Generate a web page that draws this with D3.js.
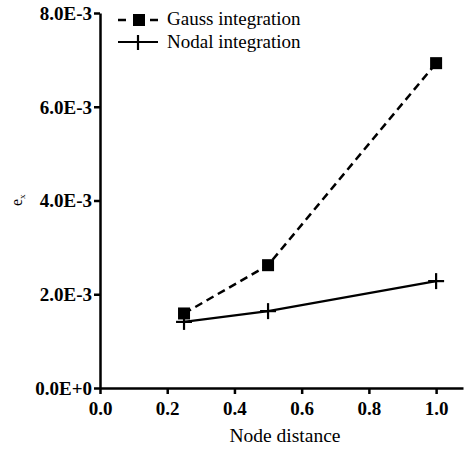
<!DOCTYPE html>
<html>
<head>
<meta charset="utf-8">
<script src="https://cdn.jsdelivr.net/npm/d3@7"></script>
</head>
<body style="margin:0">
<script>
const xTicks = [0, 0.2, 0.4, 0.6, 0.8, 1.0];
const yTicks = [0, 0.002, 0.004, 0.006, 0.008];
const nodeDistance = [0.25, 0.5, 1.0];
const gaussError = [0.00159, 0.00262, 0.00693];
const nodalError = [0.00141, 0.00164, 0.00228];
const seriesNames = ['Gauss integration', 'Nodal integration'];

const width = 464, height = 449;
const serif = '"Liberation Serif", "Times New Roman", Tinos';
const svg = d3.select('body').append('svg')
  .attr('width', width).attr('height', height)
  .attr('font-family', serif);

const x = d3.scaleLinear().domain([0, 1.08]).range([100, 463]);
const y = d3.scaleLinear().domain([0, 0.008]).range([388, 13]);

// axes
const xAxis = svg.append('g')
  .attr('transform', `translate(0,${y(0)})`)
  .call(d3.axisBottom(x).tickValues(xTicks).tickSize(6).tickSizeOuter(0).tickFormat(d3.format('.1f')));
const yAxis = svg.append('g')
  .attr('transform', `translate(${x(0)},0)`)
  .call(d3.axisLeft(y).tickValues(yTicks).tickSize(6).tickSizeOuter(0)
    .tickFormat(d => d === 0 ? '0.0E+0' : (d * 1000).toFixed(1) + 'E-3'));

[xAxis, yAxis].forEach(g => {
  g.attr('font-family', serif).attr('font-size', 19).attr('font-weight', 'bold');
  g.select('.domain').attr('stroke', '#000').attr('stroke-width', 2.5);
  g.selectAll('.tick line').attr('stroke', '#000').attr('stroke-width', 2.5);
  g.selectAll('.tick text')
    .attr('fill', '#000')
    .attr('font-family', serif)
    .style('font-family', serif);
});
xAxis.selectAll('.tick text').attr('y', 9).attr('dy', '0.95em');
yAxis.selectAll('.tick text').attr('x', -8).attr('dy', '0.33em');

// axis titles
svg.append('text')
  .attr('x', 285).attr('y', 442)
  .attr('text-anchor', 'middle')
  .attr('font-family', serif)
  .attr('font-size', 19.5)
  .text('Node distance');

const yl = svg.append('text')
  .attr('transform', 'translate(22,206) rotate(-90)')
  .attr('font-family', serif)
  .attr('font-size', 16);
yl.append('tspan').text('e');
yl.append('tspan').attr('dy', '3').attr('font-size', 9).text('x');

// lines
const line = d3.line().x(d => x(d[0])).y(d => y(d[1]));
const gaussPts = nodeDistance.map((d, i) => [d, gaussError[i]]);
const nodalPts = nodeDistance.map((d, i) => [d, nodalError[i]]);

svg.append('path').datum(gaussPts)
  .attr('d', line).attr('fill', 'none')
  .attr('stroke', '#000').attr('stroke-width', 2.5)
  .attr('stroke-dasharray', '8,5');
svg.append('path').datum(nodalPts)
  .attr('d', line).attr('fill', 'none')
  .attr('stroke', '#000').attr('stroke-width', 2.2);

const sq = 12, cr = 8;
svg.append('g').selectAll('rect').data(gaussPts).enter().append('rect')
  .attr('x', d => x(d[0]) - sq / 2).attr('y', d => y(d[1]) - sq / 2)
  .attr('width', sq).attr('height', sq).attr('fill', '#000');

const crosses = svg.append('g').attr('stroke', '#000').attr('stroke-width', 2.2);
nodalPts.forEach(d => {
  crosses.append('line').attr('x1', x(d[0]) - cr).attr('x2', x(d[0]) + cr)
    .attr('y1', y(d[1])).attr('y2', y(d[1]));
  crosses.append('line').attr('x1', x(d[0])).attr('x2', x(d[0]))
    .attr('y1', y(d[1]) - cr).attr('y2', y(d[1]) + cr);
});

// legend
const legend = svg.append('g').attr('stroke', '#000');
legend.append('line').attr('x1', 118).attr('x2', 126).attr('y1', 20).attr('y2', 20).attr('stroke-width', 2.5);
legend.append('line').attr('x1', 150).attr('x2', 158).attr('y1', 20).attr('y2', 20).attr('stroke-width', 2.5);
legend.append('rect').attr('x', 133).attr('y', 14).attr('width', 12).attr('height', 12)
  .attr('fill', '#000').attr('stroke', 'none');
legend.append('line').attr('x1', 118).attr('x2', 158).attr('y1', 42).attr('y2', 42).attr('stroke-width', 2.2);
legend.append('line').attr('x1', 138).attr('x2', 138).attr('y1', 35).attr('y2', 50).attr('stroke-width', 2.2);
svg.append('g').selectAll('text').data(seriesNames).enter().append('text')
  .attr('x', 167).attr('y', (d, i) => 25 + i * 22.5)
  .attr('font-family', serif)
  .attr('font-size', 19)
  .text(d => d);
</script>
</body>
</html>
